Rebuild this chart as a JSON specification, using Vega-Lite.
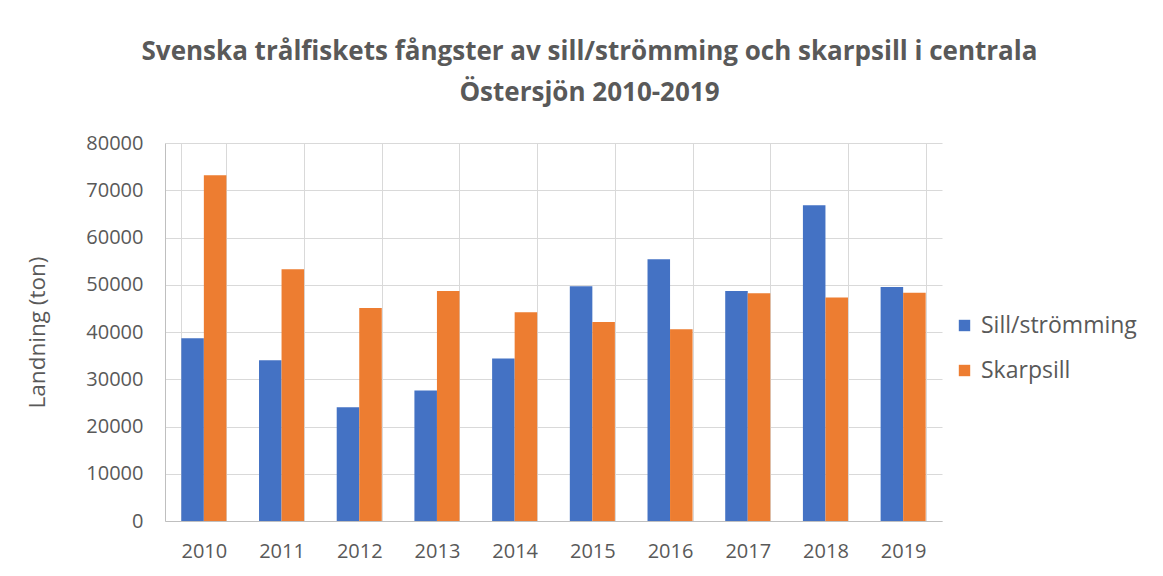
{
  "$schema": "https://vega.github.io/schema/vega-lite/v6.json",
  "width": 777,
  "height": 378,
  "autosize": {"type": "none"},
  "padding": {"left": 165, "top": 143, "right": 221, "bottom": 55},
  "background": "white",
  "title": {
    "text": ["Svenska trålfiskets fångster av sill/strömming och skarpsill i centrala", "Östersjön 2010-2019"],
    "font": "Open Sans",
    "fontSize": 26,
    "fontWeight": "bold",
    "color": "#595959",
    "lineHeight": 41,
    "anchor": "middle",
    "frame": "group",
    "dx": 36,
    "offset": 27
  },
  "data": {
    "values": [
      {"year": "2010", "series": "Sill/strömming", "value": 38700},
      {"year": "2010", "series": "Skarpsill", "value": 73200},
      {"year": "2011", "series": "Sill/strömming", "value": 34000},
      {"year": "2011", "series": "Skarpsill", "value": 53300},
      {"year": "2012", "series": "Sill/strömming", "value": 24100},
      {"year": "2012", "series": "Skarpsill", "value": 45100},
      {"year": "2013", "series": "Sill/strömming", "value": 27600},
      {"year": "2013", "series": "Skarpsill", "value": 48700},
      {"year": "2014", "series": "Sill/strömming", "value": 34400},
      {"year": "2014", "series": "Skarpsill", "value": 44200},
      {"year": "2015", "series": "Sill/strömming", "value": 49700},
      {"year": "2015", "series": "Skarpsill", "value": 42100},
      {"year": "2016", "series": "Sill/strömming", "value": 55400},
      {"year": "2016", "series": "Skarpsill", "value": 40600},
      {"year": "2017", "series": "Sill/strömming", "value": 48700},
      {"year": "2017", "series": "Skarpsill", "value": 48200},
      {"year": "2018", "series": "Sill/strömming", "value": 66800},
      {"year": "2018", "series": "Skarpsill", "value": 47300},
      {"year": "2019", "series": "Sill/strömming", "value": 49500},
      {"year": "2019", "series": "Skarpsill", "value": 48300}
    ]
  },
  "mark": {"type": "bar"},
  "encoding": {
    "x": {
      "field": "year",
      "type": "nominal",
      "scale": {"paddingInner": 0.42, "paddingOuter": 0.21},
      "axis": {
        "title": null,
        "labelAngle": 0,
        "labelFont": "Open Sans",
        "labelFontSize": 20,
        "labelColor": "#595959",
        "labelPadding": 20,
        "ticks": false,
        "grid": true,
        "gridColor": "#D9D9D9",
        "tickBand": "extent",
        "domainColor": "#BFBFBF",
        "domainWidth": 1
      }
    },
    "xOffset": {"field": "series", "type": "nominal", "scale": {"domain": ["Sill/strömming", "Skarpsill"]}},
    "y": {
      "field": "value",
      "type": "quantitative",
      "scale": {"domain": [0, 80000]},
      "axis": {
        "title": "Landning (ton)",
        "titleFont": "Open Sans",
        "titleFontSize": 22.5,
        "titleFontWeight": "normal",
        "titleColor": "#595959",
        "titlePadding": 36,
        "values": [0, 10000, 20000, 30000, 40000, 50000, 60000, 70000, 80000],
        "format": "d",
        "labelFont": "Open Sans",
        "labelFontSize": 20,
        "labelColor": "#595959",
        "labelPadding": 22,
        "ticks": false,
        "grid": true,
        "gridColor": "#D9D9D9",
        "domainColor": "#BFBFBF"
      }
    },
    "color": {
      "field": "series",
      "type": "nominal",
      "scale": {"domain": ["Sill/strömming", "Skarpsill"], "range": ["#4472C4", "#ED7D31"]},
      "legend": {
        "title": null,
        "orient": "none",
        "legendX": 788,
        "legendY": 171,
        "symbolType": "square",
        "symbolSize": 130,
        "symbolStrokeWidth": 0,
        "labelFont": "Open Sans",
        "labelFontSize": 23,
        "labelColor": "#595959",
        "labelOffset": 5,
        "rowPadding": 21
      }
    }
  },
  "config": {"view": {"stroke": null}}
}
